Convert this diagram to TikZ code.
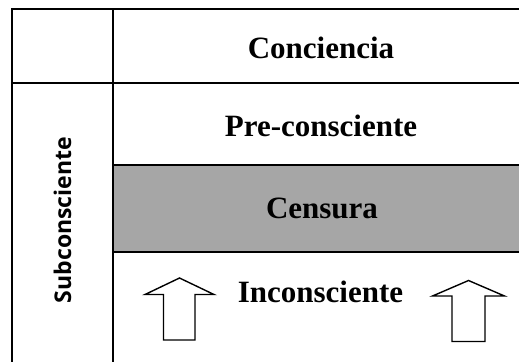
\documentclass[tikz,border=0pt]{standalone}
\usepackage{fontspec}
\setmainfont{Liberation Serif}
\newfontfamily\labelsans{Open Sans}
\begin{document}
\begin{tikzpicture}[x=1pt,y=-1pt,
  rule/.style={line width=2pt},
  layertext/.style={font=\fontsize{31}{36}\selectfont\bfseries, inner sep=0pt, anchor=center},
  uparrow/.style={draw=black, line width=1.4pt, fill=white, line join=miter}]
\useasboundingbox (0,0) rectangle (519,362);
% gray censura band
\fill[fill={rgb,255:red,166;green,166;blue,166}] (113,165) rectangle (519,252);
% rules
\draw[rule] (12,9) -- (519,9);
\draw[rule] (12,83) -- (519,83);
\draw[rule] (113,165) -- (519,165);
\draw[rule] (113,252) -- (519,252);
\draw[rule] (12,8) -- (12,362);
\draw[rule] (113,8) -- (113,362);
% texts
\node[layertext] (conc) at (321,48) {Conciencia};
\node[layertext] (pre) at (321,126) {Pre-consciente};
\node[layertext] (cens) at (322,208) {Censura};
\node[layertext] (inc) at (320.5,292) {Inconsciente};
\node[font=\labelsans\fontsize{23}{27}\selectfont\bfseries, rotate=90, inner sep=0pt] (sub) at (62.5,220) {Subconsciente};
% arrows
\draw[uparrow] (179.5,278) -- (214,294.5) -- (195,294.5) -- (195,340) -- (163.5,340) -- (163.5,294.5) -- (145,294.5) -- cycle;
\draw[uparrow] (468.5,280.5) -- (504.5,296) -- (485,296) -- (485,341.5) -- (452,341.5) -- (452,296) -- (432.5,296) -- cycle;
\end{tikzpicture}
\end{document}
